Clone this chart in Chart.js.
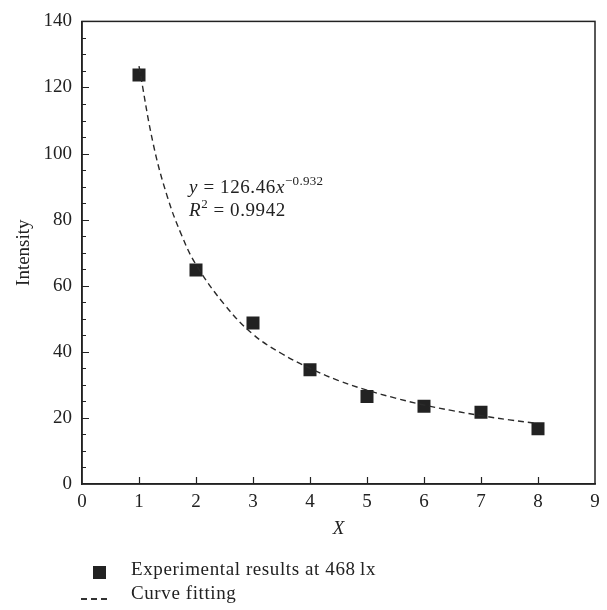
<!DOCTYPE html>
<html>
<head>
<meta charset="utf-8">
<script src="https://cdn.jsdelivr.net/npm/chart.js@4.4.0/dist/chart.umd.min.js"></script>
<style>
  body { margin: 0; background: #fff; }
  #wrap { position: relative; width: 607px; height: 610px; font-family: "Liberation Serif", serif; color: #222; }
  #grafico { position: absolute; left: 0; top: 0; }
  .nota { position: absolute; font-size: 19px; line-height: 22px; white-space: nowrap; letter-spacing: 0.6px; }
  .nota sup { font-size: 13px; vertical-align: 8px; line-height: 0; letter-spacing: 0.3px; }
  .leg { position: absolute; font-size: 19px; white-space: nowrap; letter-spacing: 0.6px; }
  .trattino { position: absolute; width: 6px; height: 1.5px; background: #333; top: 598px; }
</style>
</head>
<body>
<div id="wrap">
  <canvas id="grafico" width="607" height="610"></canvas>
  <div class="nota" style="left:189px; top:176px;"><i>y</i> = 126.46<i>x</i><sup>&minus;0.932</sup></div>
  <div class="nota" style="left:189px; top:199px;"><i>R</i><sup>2</sup> = 0.9942</div>
  <div class="leg" style="left:93px; top:566px; width:13px; height:13px; background:#222;"></div>
  <div class="leg" style="left:131px; top:558px;">Experimental results at 468&thinsp;lx</div>
  <div class="trattino" style="left:81px;"></div>
  <div class="trattino" style="left:91px;"></div>
  <div class="trattino" style="left:101px;"></div>
  <div class="leg" style="left:131px; top:582px;">Curve fitting</div>
</div>
<script>
// punti sperimentali
const xPunti = [1, 2, 3, 4, 5, 6, 7, 8];
const yPunti = [123.8, 64.8, 48.7, 34.6, 26.5, 23.5, 21.7, 16.7];

// curva di fitting
const xCurva = [1, 1.25, 1.5, 1.75, 2, 2.5, 3, 3.5, 4, 4.5, 5, 5.5, 6, 6.5, 7, 7.5, 8];
const yCurva = [126.5, 102.9, 86.8, 75.2, 66.4, 54.3, 45.3, 39.5, 35.0, 31.3, 28.4, 26.0, 23.9, 22.2, 20.7, 19.4, 18.3];

const inchiostro = "#222";
const font = { family: "Liberation Serif", size: 19 };

// tacche interne + cornice
const TaccheInterne = {
  afterDraw: (chart) => {
    const { ctx, chartArea } = chart;
    const sx = chart.scales.x, sy = chart.scales.y;
    ctx.save();
    ctx.strokeStyle = inchiostro;
    ctx.lineWidth = 1.5;
    ctx.strokeRect(chartArea.left, chartArea.top, chartArea.right - chartArea.left, chartArea.bottom - chartArea.top);
    ctx.lineWidth = 1.2;
    ctx.beginPath();
    for (let v = 1; v < 9; v++) {
      const px = Math.round(sx.getPixelForValue(v)) + 0.5;
      ctx.moveTo(px, chartArea.bottom);
      ctx.lineTo(px, chartArea.bottom - 7);
    }
    for (let v = 5; v < 140; v += 5) {
      const py = Math.round(sy.getPixelForValue(v)) + 0.5;
      const len = v % 20 === 0 ? 7 : 4;
      ctx.moveTo(chartArea.left, py);
      ctx.lineTo(chartArea.left + len, py);
    }
    ctx.stroke();
    ctx.restore();
  }
};

new Chart("grafico", {
  type: "scatter",
  data: {
    datasets: [
      {
        type: "line",
        data: xCurva.map((x, i) => ({ x: x, y: yCurva[i] })),
        borderColor: "#2a2a2a",
        borderWidth: 1.4,
        borderDash: [6, 4],
        pointRadius: 0,
        tension: 0.4,
        fill: false
      },
      {
        data: xPunti.map((x, i) => ({ x: x, y: yPunti[i] })),
        pointStyle: "rect",
        pointRadius: 9.2,
        backgroundColor: inchiostro,
        borderColor: inchiostro,
        borderWidth: 0
      }
    ]
  },
  options: {
    responsive: false,
    devicePixelRatio: 1,
    animation: false,
    layout: { padding: { left: 0, right: 12, top: 16, bottom: 0 } },
    plugins: { legend: { display: false }, tooltip: { enabled: false } },
    scales: {
      x: {
        type: "linear",
        min: 0, max: 9,
        afterFit: (s) => { s.height = 126; },
        ticks: { stepSize: 1, color: inchiostro, font: font, padding: 7, maxRotation: 0 },
        grid: { display: false, drawTicks: false },
        border: { color: inchiostro, width: 1.5 },
        title: { display: true, text: "X", color: inchiostro, font: { family: "Liberation Serif", size: 19, style: "italic" }, padding: 70 }
      },
      y: {
        min: 0, max: 140,
        afterFit: (s) => { s.width = 82; },
        ticks: { stepSize: 20, color: inchiostro, font: font, padding: 10 },
        grid: { display: false, drawTicks: false },
        border: { color: inchiostro, width: 1.5 },
        title: { display: true, text: "Intensity", color: inchiostro, font: font, padding: 13 }
      }
    }
  },
  plugins: [TaccheInterne]
});
</script>
</body>
</html>
